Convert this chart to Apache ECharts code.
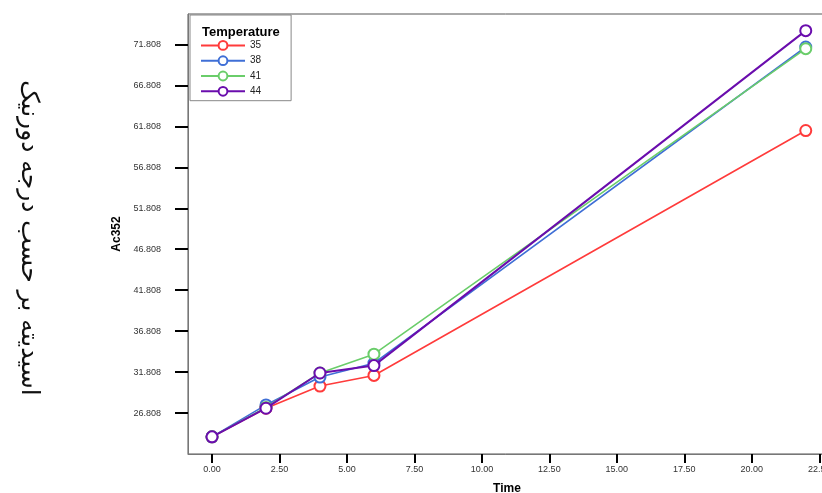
<!DOCTYPE html>
<html>
<head>
<meta charset="utf-8">
<script src="https://cdn.jsdelivr.net/npm/echarts@6/dist/echarts.min.js"></script>
<style>
  html, body { margin: 0; padding: 0; background: #fff; }
  #chart { width: 822px; height: 493px; }
</style>
</head>
<body>
<div id="chart"></div>
<script>
// data
const times = [0, 2, 4, 6, 22];
const temps = ['35', '38', '41', '44'];
const t35 = [23.9, 27.4, 30.1, 31.4, 61.3];
const t38 = [23.9, 27.8, 31.2, 32.9, 71.5];
const t41 = [23.9, 27.5, 31.7, 34.0, 71.3];
const t44 = [23.9, 27.4, 31.7, 32.6, 73.5];
const colors = ['#ff3b3b', '#3f6fd6', '#6acd6a', '#6a0dad'];
const xTicks = [0, 2.5, 5, 7.5, 10, 12.5, 15, 17.5, 20, 22.5];
const yTicks = [26.808, 31.808, 36.808, 41.808, 46.808, 51.808, 56.808, 61.808, 66.808, 71.808];

const chart = echarts.init(document.getElementById('chart'), null, { renderer: 'canvas' });

const allSeries = [t35, t38, t41, t44];
const series = allSeries.map((vals, i) => ({
  name: temps[i],
  type: 'line',
  data: vals.map((v, k) => [times[k], v]),
  symbol: 'emptyCircle',
  symbolSize: 11,
  showAllSymbol: true,
  lineStyle: { width: i == 3 ? 2 : 1.6, color: colors[i] },
  itemStyle: { color: colors[i], borderWidth: 1.3 },
  z: 2 + i
}));

const option = {
  animation: false,
  textStyle: { fontFamily: 'Liberation Sans, Arial, sans-serif' },
  title: {
    text: 'Temperature',
    left: 197,
    top: 21,
    z: 10,
    textStyle: { fontSize: 13, fontWeight: 'bold', color: '#000' }
  },
  legend: {
    orient: 'vertical',
    left: 190,
    top: 15,
    padding: [25, 30, 4, 10],
    itemWidth: 44,
    itemHeight: 11,
    itemGap: 4.5,
    borderColor: '#888',
    borderWidth: 1,
    backgroundColor: '#fff',
    data: temps,
    textStyle: { fontSize: 10, color: '#222' }
  },
  grid: {
    left: 188,
    right: -4,
    top: 14,
    bottom: 39,
    outerBoundsMode: 'none',
    containLabel: false,
    show: true,
    borderColor: '#555',
    borderWidth: 1
  },
  xAxis: {
    type: 'value',
    min: -0.89,
    max: 22.75,
    name: 'Time',
    nameLocation: 'middle',
    nameGap: 29,
    nameTextStyle: { fontSize: 12, fontWeight: 'bold', color: '#000' },
    axisLine: { show: true, onZero: false, lineStyle: { color: '#777' } },
    axisTick: { show: true, length: 9, lineStyle: { color: '#000', width: 2 }, customValues: xTicks },
    axisLabel: {
      fontSize: 9, color: '#333', margin: 11,
      customValues: xTicks,
      formatter: v => v.toFixed(2)
    },
    splitLine: { show: false }
  },
  yAxis: {
    type: 'value',
    min: 21.808,
    max: 75.53,
    name: 'Ac352',
    nameLocation: 'middle',
    nameGap: 63,
    nameTextStyle: { fontSize: 12, fontWeight: 'bold', color: '#000' },
    axisLine: { show: true, onZero: false, lineStyle: { color: '#777' } },
    axisTick: { show: true, length: 13, lineStyle: { color: '#000', width: 2 }, customValues: yTicks },
    axisLabel: {
      fontSize: 9, color: '#333', margin: 27,
      customValues: yTicks,
      formatter: v => v.toFixed(3)
    },
    splitLine: { show: false }
  },
  graphic: [{
    type: 'text',
    x: 28,
    y: 238,
    rotation: -Math.PI / 2,
    style: {
      text: 'اسیدیته بر حسب درجه دورنیک',
      font: '25px "DejaVu Sans", sans-serif',
      fill: '#111',
      align: 'center',
      verticalAlign: 'middle'
    }
  }],
  series: series
};

chart.setOption(option);
</script>
</body>
</html>
